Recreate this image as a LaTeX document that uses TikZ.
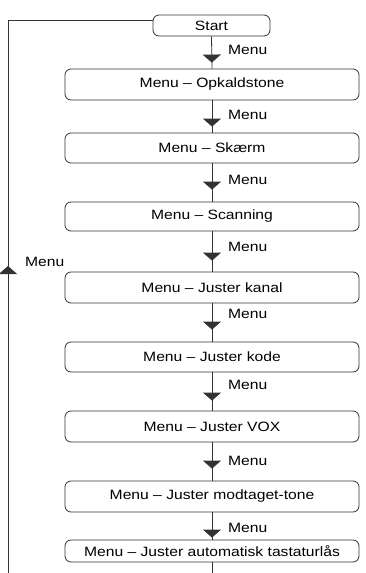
\documentclass[tikz,border=0pt]{standalone}
\usepackage{fontspec}
\setmainfont{Liberation Sans}[FakeStretch=1.16]
\usetikzlibrary{arrows.meta,decorations.markings}
\tikzset{
  box/.style={draw=black!80, line width=0.8pt, rounded corners=6pt, minimum width=294pt, inner sep=0pt, anchor=center, font=\fontsize{13.5}{16}\selectfont},
  lbl/.style={anchor=west, inner sep=0pt, font=\fontsize{13.5}{16}\selectfont},
  conn/.style={draw=black!80, line width=0.8pt},
  flow/.style={conn, postaction={decorate, decoration={markings, mark=at position #1 with {\arrow{Triangle[width=18pt,length=8pt]}}}}}
}
\begin{document}
\begin{tikzpicture}[x=1pt,y=-1pt]
\useasboundingbox (0,0) rectangle (366,573);
\node[box, minimum width=117pt, minimum height=21pt] (start) at (211.5,25.5) {Start};
\node[box, minimum height=31pt] (opk) at (212,84.5) {Menu – Opkaldstone};
\node[box, minimum height=30pt] (skaerm) at (212,148) {Menu – Skærm};
\node[box, minimum height=29pt] (scan) at (212,216.5) {Menu – Scanning};
\node[box, minimum height=31pt] (kanal) at (212,287.5) {Menu – Juster kanal};
\node[box, minimum height=30pt] (kode) at (212,357) {Menu – Juster kode};
\node[box, minimum height=31pt] (vox) at (212,426.5) {Menu – Juster VOX};
\node[box, minimum height=31pt] (modt) at (212,496.5) {Menu – Juster modtaget-tone};
\node[box, minimum height=22pt] (auto) at (212,551) {Menu – Juster automatisk tastaturlås};

\draw[flow=-6pt] (start.south) -- (opk.north);
\draw[flow=-6pt] (opk.south) -- (skaerm.north);
\draw[flow=-12pt] (skaerm.south) -- (scan.north);
\draw[flow=-11pt] (scan.south) -- (kanal.north);
\draw[flow=-12pt] (kanal.south) -- (kode.north);
\draw[flow=-10pt] (kode.south) -- (vox.north);
\draw[flow=-12pt] (vox.south) -- (modt.north);
\draw[flow=-2pt] (modt.south) -- (auto.north);

\node[lbl] (m1) at (228,50) {Menu};
\node[lbl] (m2) at (228,115) {Menu};
\node[lbl] (m3) at (228,180) {Menu};
\node[lbl] (m4) at (228,247) {Menu};
\node[lbl] (m5) at (228,314) {Menu};
\node[lbl] (m6) at (228,385) {Menu};
\node[lbl] (m7) at (228,461) {Menu};
\node[lbl] (m8) at (228,528) {Menu};

\coordinate (botend) at (212,573);
\draw[conn] (auto.south) -- (botend);

\coordinate (loopbot) at (8,573);
\coordinate (looptop) at (8,20);
\draw[flow=307pt] (loopbot) -- (looptop) -- (start.west |- looptop);
\node[lbl] (mloop) at (25,262) {Menu};
\end{tikzpicture}
\end{document}
